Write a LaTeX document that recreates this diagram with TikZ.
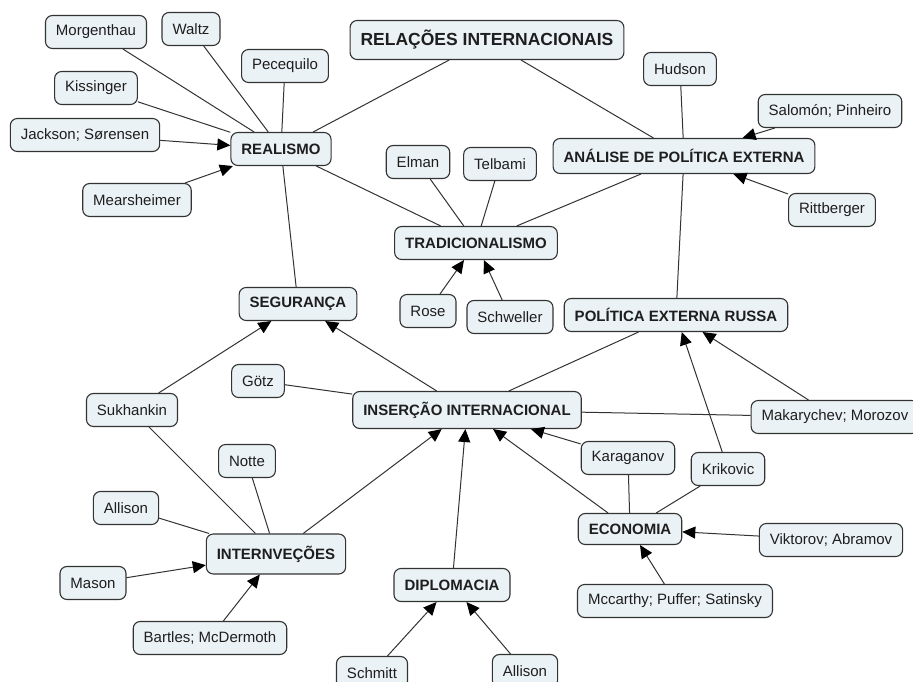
\documentclass[tikz,border=0pt]{standalone}
\usepackage{fontspec}
\setmainfont{Liberation Sans}
\usetikzlibrary{arrows.meta}
\definecolor{nodefill}{HTML}{EBF2F5}
\definecolor{nodeline}{HTML}{333333}
\definecolor{linkcol}{HTML}{333333}
\definecolor{txt}{HTML}{1E1E1E}
\begin{document}
\begin{tikzpicture}[x=1pt,y=-1pt,
  concept/.style={draw=nodeline, fill=nodefill, rounded corners=7pt, line width=1.1pt,
    inner xsep=10.5pt, inner ysep=0pt, minimum height=33pt, text=txt,
    font=\fontsize{15}{17}\selectfont},
  main/.style={concept, font=\fontsize{15}{17}\selectfont\bfseries},
  link/.style={draw=linkcol, line width=1pt},
  arr/.style={link, -{Triangle[length=13pt,width=12pt,color=black]}},
]
\path[use as bounding box, fill=white] (0,0) rectangle (913,682);

% nodes
\node[main, minimum height=39pt, font=\fontsize{17.5}{20}\selectfont\bfseries] (ri) at (487,40) {RELAÇÕES INTERNACIONAIS};
\node[concept] (morg) at (96,32) {Morgenthau};
\node[concept] (waltz) at (191,29) {Waltz};
\node[concept] (pece) at (285,66) {Pecequilo};
\node[concept] (kiss) at (96,88) {Kissinger};
\node[concept] (jack) at (85,135) {Jackson; Sørensen};
\node[main] (real) at (281,149) {REALISMO};
\node[concept] (mear) at (137,200) {Mearsheimer};
\node[concept] (hud) at (680,69) {Hudson};
\node[concept] (salo) at (830,111) {Salomón; Pinheiro};
\node[main, minimum height=35pt] (ape) at (684,156) {ANÁLISE DE POLÍTICA EXTERNA};
\node[concept] (ritt) at (832,210) {Rittberger};
\node[concept] (elman) at (418,162) {Elman};
\node[concept] (telb) at (500,164) {Telbami};
\node[main] (trad) at (476,243) {TRADICIONALISMO};
\node[concept] (rose) at (428,311) {Rose};
\node[concept] (schw) at (510,317) {Schweller};
\node[main] (seg) at (298,304) {SEGURANÇA};
\node[main] (per) at (676,315) {POLÍTICA EXTERNA RUSSA};
\node[concept] (gotz) at (258,381) {Götz};
\node[concept] (sukh) at (132,410) {Sukhankin};
\node[main, minimum height=37pt] (ins) at (467,410) {INSERÇÃO INTERNACIONAL};
\node[concept] (maka) at (835,417) {Makarychev; Morozov};
\node[concept] (kara) at (628,458) {Karaganov};
\node[concept] (krik) at (728,469) {Krikovic};
\node[main, minimum height=31pt] (eco) at (630,529) {ECONOMIA};
\node[concept] (vikt) at (831,540) {Viktorov; Abramov};
\node[concept] (mcca) at (675,601) {Mccarthy; Puffer; Satinsky};
\node[main] (dipl) at (452,585) {DIPLOMACIA};
\node[concept] (schm) at (372,673) {Schmitt};
\node[concept] (alli2) at (525,671) {Allison};
\node[concept] (notte) at (247,461) {Notte};
\node[concept] (alli1) at (126,508) {Allison};
\node[main, minimum height=40pt] (intv) at (276,554) {INTERNVEÇÕES};
\node[concept] (mason) at (93,583) {Mason};
\node[concept] (bart) at (210,638) {Bartles; McDermoth};

% plain links
\draw[link] (morg) -- (real);
\draw[link] (waltz) -- (real);
\draw[link] (pece) -- (real);
\draw[link] (kiss) -- (real);
\draw[link] (ri) -- (real);
\draw[link] (ri) -- (ape);
\draw[link] (hud) -- (ape);
\draw[link] (real) -- (trad);
\draw[link] (ape) -- (trad);
\draw[link] (elman) -- (trad);
\draw[link] (telb) -- (trad);
\draw[link] (real) -- (seg);
\draw[link] (ape) -- (per);
\draw[link] (gotz) -- (ins);
\draw[link] (per) -- (ins);
\draw[link] (maka) -- (ins);
\draw[link] (sukh) -- (intv);
\draw[link] (notte) -- (intv);
\draw[link] (alli1) -- (intv);
\draw[link] (kara) -- (eco);
\draw[link] (krik) -- (eco);

% arrows
\draw[arr] (jack) -- (real);
\draw[arr] (mear) -- (real);
\draw[arr] (salo) -- (ape);
\draw[arr] (ritt) -- (ape);
\draw[arr] (rose) -- (trad);
\draw[arr] (schw) -- (trad);
\draw[arr] (sukh) -- (seg);
\draw[arr] (ins) -- (seg);
\draw[arr] (maka) -- (per);
\draw[arr] (krik) -- (per);
\draw[arr] (kara) -- (ins);
\draw[arr] (eco) -- (ins);
\draw[arr] (dipl) -- (ins);
\draw[arr] (intv) -- (ins);
\draw[arr] (mason) -- (intv);
\draw[arr] (bart) -- (intv);
\draw[arr] (vikt) -- (eco);
\draw[arr] (mcca) -- (eco);
\draw[arr] (schm) -- (dipl);
\draw[arr] (alli2) -- (dipl);
\end{tikzpicture}
\end{document}
